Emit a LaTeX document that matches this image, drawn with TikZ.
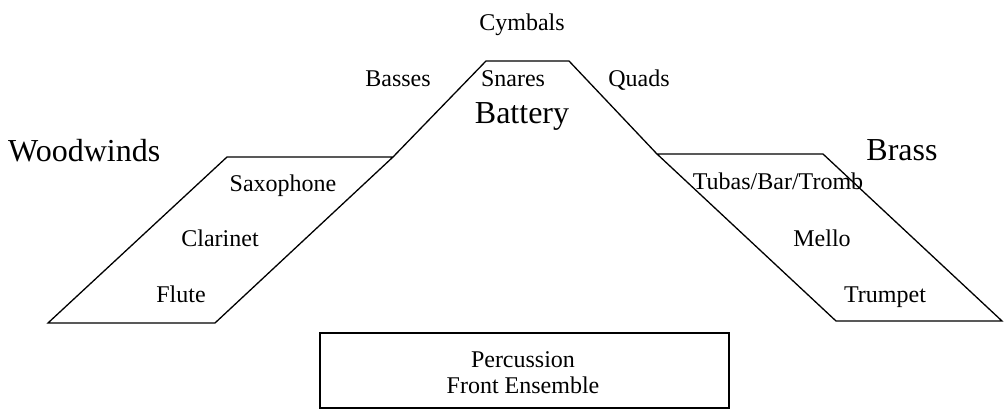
\documentclass[tikz,border=0pt]{standalone}
\usepackage{fontspec}
\setmainfont{Liberation Serif}
\begin{document}
\begin{tikzpicture}[x=1pt,y=-1pt,
  outline/.style={draw=black,line width=1.3pt,line join=miter},
  lbl/.style={anchor=base,inner sep=0pt,font=\fontsize{24}{28}\selectfont},
  big/.style={anchor=base,inner sep=0pt,font=\fontsize{32}{38}\selectfont}]
\useasboundingbox (0,0) rectangle (1005,414);
% Woodwinds parallelogram
\coordinate (wtl) at (227,157);
\coordinate (wtr) at (393,157);
\coordinate (wbr) at (215,323);
\coordinate (wbl) at (48,323);
% Battery top
\coordinate (btl) at (486,61);
\coordinate (btr) at (569,61);
% Brass parallelogram
\coordinate (rtl) at (657,154);
\coordinate (rtr) at (823,154);
\coordinate (rbr) at (1002,321);
\coordinate (rbl) at (836,321);
\draw[outline] (wbr) -- (wbl) -- (wtl) -- (wtr) -- cycle;
\draw[outline] (wtr) -- (btl) -- (btr) -- (rtl);
\draw[outline] (rtl) -- (rtr) -- (rbr) -- (rbl) -- cycle;
% Front ensemble box
\node[outline,minimum width=409pt,minimum height=75pt,inner sep=0pt] (front) at (524.5,370.5) {};
\node[lbl] (perc) at (523,367) {Percussion};
\node[lbl] (fe) at (523,393) {Front Ensemble};
% Battery labels
\node[lbl] (cym) at (522,31) {Cymbals};
\node[lbl] (bas) at (398,87) {Basses};
\node[lbl] (sna) at (513,87) {Snares};
\node[lbl] (qua) at (639,87) {Quads};
\node[big] (bat) at (522,124) {Battery};
% Woodwinds
\node[big,anchor=base west] (ww) at (8,162) {Woodwinds};
\node[lbl] (sax) at (283,192) {Saxophone};
\node[lbl] (cla) at (220,247) {Clarinet};
\node[lbl] (flu) at (181,303) {Flute};
% Brass
\node[big] (bra) at (902,161) {Brass};
\node[lbl] (tub) at (778,190) {Tubas/Bar/Tromb};
\node[lbl] (mel) at (822,247) {Mello};
\node[lbl] (tru) at (885,303) {Trumpet};
\end{tikzpicture}
\end{document}
